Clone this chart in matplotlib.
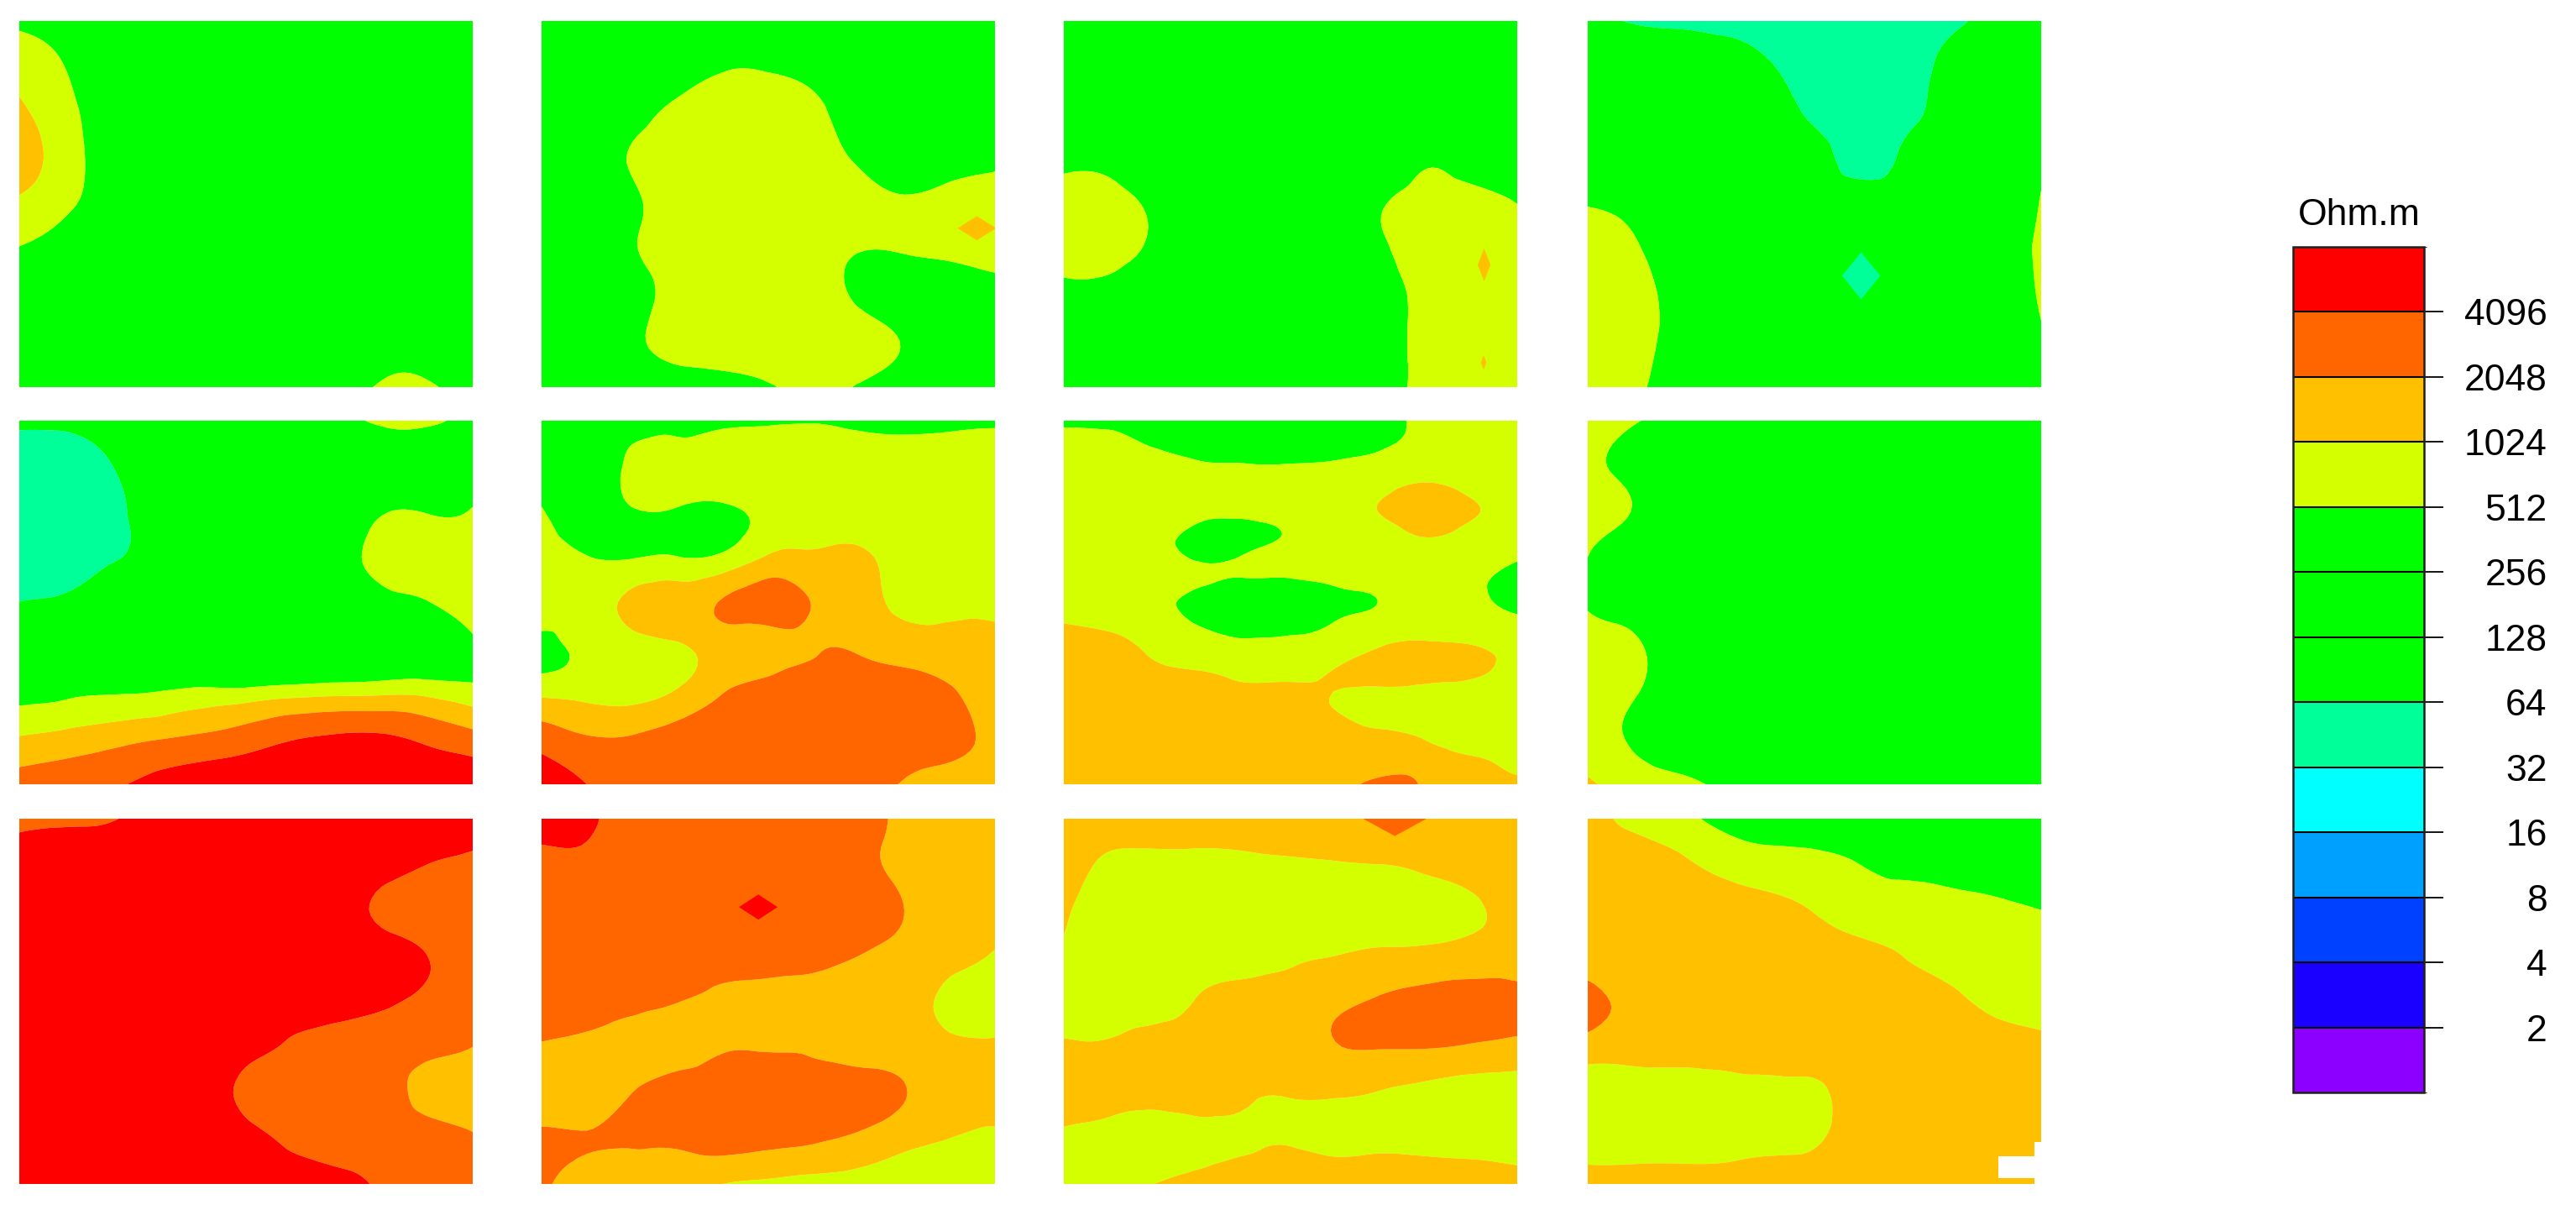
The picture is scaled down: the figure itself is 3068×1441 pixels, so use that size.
#/usr/bin/env python

import numpy as np
import matplotlib
matplotlib.use('Agg')
import matplotlib.pyplot as plt
import matplotlib.tri as mtri
from matplotlib.cm import ScalarMappable
from matplotlib.colors import ListedColormap, BoundaryNorm
from matplotlib.patches import Rectangle

plt.rcParams['font.family'] = ['Liberation Sans', 'DejaVu Sans']

# resistivity as log2(Ohm.m), rows run top to bottom
panel_1 = [
    [8.8, 8.5, 8.0, 7.5, 7.0, 7.0, 7.5, 7.5, 7.5, 7.5, 7.5],
    [9.6, 9.0, 8.3, 8.0, 7.5, 7.2, 7.5, 7.5, 7.5, 7.5, 7.5],
    [10.2, 9.3, 8.5, 8.0, 7.5, 7.3, 7.5, 7.8, 8.0, 8.0, 8.0],
    [10.5, 9.5, 8.5, 8.0, 7.5, 7.3, 7.5, 7.8, 8.0, 8.0, 8.0],
    [9.8, 9.2, 8.5, 8.0, 7.5, 7.3, 7.5, 7.8, 8.0, 8.0, 8.0],
    [8.95, 8.6, 8.2, 8.0, 7.5, 7.5, 7.5, 7.8, 8.0, 8.0, 8.0],
    [8.5, 8.3, 8.0, 8.0, 7.5, 7.5, 7.5, 7.8, 8.0, 8.0, 8.0],
    [8.2, 8.0, 8.0, 8.0, 7.5, 7.5, 7.8, 8.0, 8.5, 8.5, 8.2],
    [8.0, 8.0, 8.0, 7.8, 7.5, 7.5, 8.0, 8.5, 9.1, 9.1, 8.6],
]
panel_2 = [
    [8, 8, 8, 8, 8, 8, 8, 8, 8, 8, 8],
    [8, 8, 8, 8.3, 8.9, 8.9, 8.6, 8, 8, 8, 8],
    [8, 8, 8.5, 9.3, 9.5, 9.5, 9.3, 8.3, 8, 8, 8],
    [8, 8.3, 9.1, 9.5, 9.5, 9.5, 9.5, 8.8, 8.2, 8.4, 8.7],
    [8, 8.2, 8.8, 9.5, 9.5, 9.5, 9.5, 9.5, 9.2, 9.5, 9.6],
    [8, 8.2, 8.9, 9.5, 9.5, 9.5, 9.5, 9.05, 9.1, 9.3, 9.5],
    [8, 8, 8.5, 9.4, 9.5, 9.5, 9.5, 8.8, 8.3, 8.2, 8.5],
    [8, 8, 8.7, 9.5, 9.5, 9.5, 9.5, 9.5, 8.9, 8, 8],
    [8, 8, 8, 8.2, 8.6, 8.9, 9.3, 8.9, 8.2, 8, 8],
]
panel_3 = [
    [8, 8, 8, 8, 8, 8, 8, 8, 8, 8, 8],
    [8, 8, 8, 8, 8, 8, 8, 8, 8, 8, 8],
    [8, 8, 8, 8, 8, 8, 8, 8, 8, 8, 8],
    [8.7, 8.6, 8, 8, 8, 8, 8, 8, 8.8, 8.3, 8],
    [9.5, 9.5, 8.7, 8, 8, 8, 8, 8.9, 9.5, 9.5, 9],
    [9.5, 9.5, 8.7, 8, 8, 8, 8, 8.8, 9.5, 9.5, 9.5],
    [8.6, 8.5, 8, 8, 8, 8, 8, 8.5, 9.3, 9.5, 9.5],
    [8, 8, 8, 8, 8, 8, 8, 8.5, 9.3, 9.5, 9.5],
    [8, 8, 8, 8, 8, 8, 8, 8.5, 9.3, 9.5, 9.5],
]
panel_4 = [
    [6.5, 5.9, 5.8, 5.7, 5.5, 5.5, 5.5, 5.5, 5.7, 6.5, 7],
    [7.5, 7, 6.7, 6.5, 6.1, 5.5, 5.5, 5.5, 6.4, 7, 7.5],
    [7.5, 7, 6.8, 6.7, 6.5, 5.8, 5.5, 5.7, 6.5, 7, 7.5],
    [8, 7.5, 7, 6.7, 6.5, 6.4, 5.6, 6.2, 6.7, 7, 8.5],
    [8.95, 8.5, 7.5, 7, 6.7, 6.5, 6.5, 6.5, 6.7, 7.5, 9.1],
    [9.5, 9.2, 8, 7.2, 6.8, 6.6, 6.5, 6.5, 6.7, 8, 9.2],
    [9.5, 9.4, 8.5, 7.5, 7, 6.8, 6.5, 6.5, 6.8, 8, 9.1],
    [9.5, 9.4, 8.5, 7.5, 7, 6.8, 6.5, 6.6, 7, 8, 8.9],
    [9.5, 9.2, 8.4, 7.5, 7, 6.6, 6.5, 6.7, 7, 8, 8.5],
]
panel_5 = [
    [6.2, 6.3, 6.5, 7, 7.5, 7.5, 8, 8.5, 9.3, 9.3, 8.5],
    [5.5, 5.4, 5.95, 6.8, 7.5, 7.5, 8, 8, 8, 8, 8.5],
    [5.5, 5.5, 5.7, 6.7, 7.5, 7.5, 8, 8, 8.9, 8.95, 9.05],
    [5.5, 5.5, 5.9, 6.5, 7.5, 7.5, 8, 8.5, 9.4, 9.5, 9.5],
    [6.03, 6.3, 6.8, 7, 7.5, 7.5, 8, 8, 8.5, 8.95, 9.8],
    [8, 8, 8, 8, 7.5, 6.9, 7.2, 7.3, 7.6, 7.9, 8.7],
    [8.73, 8.84, 8.96, 9.05, 9.3, 9.4, 9.66, 9.8, 9.87, 9.8, 9.4],
    [10.1, 10.35, 10.64, 10.95, 11.2, 11.53, 11.95, 12.15, 12.17, 11.8, 11.38],
    [11.46, 11.62, 11.85, 12.28, 12.7, 12.9, 13, 13, 13, 13, 12.8],
]
panel_6 = [
    [8.5, 8.5, 8.2, 8.6, 8.8, 8.9, 8.95, 8.75, 8.65, 8.75, 8.85],
    [8, 7.5, 9.4, 9.5, 9.5, 9.5, 9.5, 9.5, 9.5, 9.5, 9.5],
    [9.1, 8.4, 8.9, 8.9, 8.8, 9.3, 9.5, 9.5, 9.5, 9.5, 9.5],
    [9.5, 9.02, 8.95, 9.02, 9.2, 10.1, 10.15, 10.2, 9.5, 9.5, 9.5],
    [9.6, 9.5, 10.3, 10.6, 11.1, 11.5, 10.95, 10.5, 9.7, 9.7, 9.6],
    [8.7, 9.2, 9.5, 9.85, 10.4, 10.5, 10.9, 10.9, 10.6, 10.5, 10.5],
    [9.8, 9.7, 9.6, 10.15, 11, 11.5, 11.5, 11.5, 11.4, 11.1, 10.5],
    [11.6, 11.1, 11.1, 11.4, 11.5, 11.5, 11.5, 11.5, 11.5, 11.3, 10.7],
    [12.5, 12, 11.5, 11.5, 11.5, 11.5, 11.5, 11.5, 10.9, 10.5, 10.5],
]
# this one has small lobes close together, so twice the rows
panel_7 = [
    [8.85, 8.75, 8.5, 8.5, 8.5, 8.5, 8.5, 8.5, 9.4, 9.5, 9.5],
    [9.3, 9.3, 8.85, 8.4, 8.3, 8.3, 8.4, 8.8, 9.3, 9.5, 9.5],
    [9.5, 9.5, 9.5, 9.2, 9.1, 9.1, 9.2, 9.4, 9.5, 9.5, 9.5],
    [9.5, 9.5, 9.5, 9.5, 9.5, 9.5, 9.5, 9.8, 10.2, 9.8, 9.5],
    [9.5, 9.5, 9.5, 9.3, 9.3, 9.4, 9.5, 10.05, 10.5, 10.1, 9.5],
    [9.5, 9.5, 9.3, 8.7, 8.6, 9.15, 9.5, 9.6, 10.1, 9.7, 9.5],
    [9.5, 9.5, 9.4, 8.85, 9.1, 9.4, 9.5, 9.5, 9.5, 9.4, 9.1],
    [9.5, 9.5, 9.4, 9.2, 8.95, 8.95, 9.2, 9.4, 9.5, 9.2, 8.6],
    [9.5, 9.5, 9.4, 8.6, 8.5, 8.5, 8.7, 9.05, 9.5, 9.2, 8.7],
    [10.05, 9.85, 9.5, 8.97, 8.6, 8.7, 9.1, 9.5, 9.5, 9.5, 9.3],
    [10.5, 10.3, 9.8, 9.4, 9.3, 9.3, 9.5, 10.05, 10.3, 10.1, 9.6],
    [10.5, 10.5, 10.2, 10, 9.7, 9.7, 10.05, 10.5, 10.5, 10.3, 9.6],
    [10.5, 10.5, 10.5, 10.5, 10.3, 10.3, 9.97, 9.7, 9.6, 9.5, 9.5],
    [10.5, 10.5, 10.5, 10.5, 10.5, 10.5, 10.1, 9.5, 9.5, 9.5, 9.5],
    [10.5, 10.5, 10.5, 10.5, 10.5, 10.5, 10.5, 10.3, 9.95, 9.5, 9.5],
    [10.5, 10.5, 10.5, 10.5, 10.5, 10.5, 10.5, 10.5, 10.5, 10.2, 9.6],
    [10.5, 10.5, 10.5, 10.5, 10.5, 10.5, 10.5, 11.4, 10.8, 10.5, 10.3],
]
panel_8 = [
    [9.5, 9.1, 8.5, 8, 7.5, 7, 7, 7.5, 8, 8, 8],
    [9.3, 8.6, 8, 8, 7.5, 7.2, 7.2, 7.5, 8, 8, 8],
    [9.5, 8.95, 8, 8, 8, 8, 8, 8, 8, 8, 8],
    [9, 8, 8, 8, 8, 8, 8, 8, 8, 8, 8],
    [8.9, 8.2, 8, 8, 8, 8, 8, 8, 8, 8, 8],
    [9.5, 9.3, 8.1, 8, 8, 8, 8, 8, 8, 8, 8],
    [9.5, 9.1, 8.2, 8, 8, 8, 8, 8, 8, 8, 8],
    [9.4, 8.9, 8.4, 8, 8, 8, 8, 8, 8, 8, 8],
    [10.2, 9.5, 9.3, 8.7, 8, 8, 8, 8, 8, 8, 8],
]
panel_9 = [
    [11.6, 11.8, 11.9, 12.5, 12.5, 12.5, 12.5, 12.5, 12.5, 12.5, 12.5],
    [12.6, 12.6, 12.6, 12.6, 12.6, 12.6, 12.6, 12.6, 12.4, 12, 11.8],
    [12.6, 12.6, 12.6, 12.6, 12.6, 12.6, 12.6, 12.5, 11.8, 11.5, 11.5],
    [12.6, 12.6, 12.6, 12.6, 12.6, 12.6, 12.6, 12.6, 12.5, 12, 11.5],
    [12.6, 12.6, 12.6, 12.6, 12.6, 12.6, 12.5, 12.5, 12.2, 11.8, 11.5],
    [12.6, 12.6, 12.6, 12.6, 12.6, 12.3, 11.85, 11.5, 11.5, 11.3, 11],
    [12.6, 12.6, 12.6, 12.6, 12.5, 11.8, 11.5, 11.5, 11.5, 10.6, 10.5],
    [12.6, 12.6, 12.6, 12.6, 12.6, 12.3, 11.8, 11.5, 11.5, 11.5, 11.1],
    [12.6, 12.6, 12.6, 12.6, 12.6, 12.6, 12.6, 12.5, 11.8, 11.5, 11.5],
]
panel_10 = [
    [12.5, 12.2, 11.5, 11.5, 11.5, 11.5, 11.5, 11.5, 10.7, 10.5, 10.5],
    [11.7, 11.8, 11.5, 11.5, 11.5, 11.5, 11.5, 11.3, 10.7, 10.5, 10.5],
    [11.5, 11.5, 11.5, 11.5, 11.5, 11.5, 11.5, 11.5, 11, 10.5, 10.5],
    [11.5, 11.5, 11.5, 11.5, 11.5, 11.5, 11.3, 11, 10.7, 10.4, 9.9],
    [11.5, 11.5, 11.3, 11.03, 10.7, 10.5, 10.5, 10.5, 10.5, 9.7, 9.5],
    [10.9, 10.7, 10.5, 10.5, 10.9, 10.9, 10.8, 10.5, 10.5, 10.3, 10.2],
    [10.4, 10.5, 11, 11.5, 11.5, 11.5, 11.5, 11.5, 11.05, 10.5, 10.5],
    [11.2, 11.05, 11.1, 11.2, 11.4, 11.3, 11.15, 10.8, 10.3, 10, 9.8],
    [11.2, 10.5, 10.5, 10.5, 10, 9.8, 9.6, 9.6, 9.5, 9.5, 9.5],
]
panel_11 = [
    [10.5, 10.5, 10.5, 10.5, 10.5, 10.5, 10.5, 10.5, 10.5, 10.5, 10.5],
    [10.5, 9.85, 9.8, 9.8, 9.85, 9.9, 9.95, 10, 10.2, 10.5, 10.5],
    [10.15, 9.5, 9.5, 9.5, 9.5, 9.5, 9.5, 9.5, 9.5, 9.8, 10.5],
    [9.85, 9.5, 9.5, 9.5, 9.5, 9.8, 10, 10.2, 10.3, 10.5, 10.5],
    [9.6, 9.6, 9.6, 10.1, 10.5, 10.5, 10.8, 11.1, 11.3, 11.3, 11.3],
    [10.15, 10.15, 10.5, 10.5, 10.5, 10.5, 10.95, 11.05, 11.05, 10.9, 10.7],
    [10.5, 10.5, 10.5, 10.5, 10.15, 10.05, 10.1, 9.95, 9.7, 9.5, 9.5],
    [9.8, 9.5, 9.3, 9.65, 9.9, 9.95, 9.8, 9.8, 9.7, 9.6, 9.5],
    [9.5, 9.5, 10, 10.5, 10.5, 10.5, 10.5, 10.5, 10.5, 10.5, 10.4],
]
panel_12 = [
    [10.5, 9.7, 9.3, 8.7, 8.5, 8.3, 8, 8, 8, 8, 8],
    [10.5, 10.5, 10.2, 9.7, 9.4, 9.3, 9, 8.7, 8.5, 8.2, 8],
    [10.5, 10.5, 10.5, 10.5, 10.3, 9.95, 9.5, 9.5, 9.4, 9.3, 9],
    [10.3, 10.5, 10.5, 10.5, 10.5, 10.5, 10.3, 9.97, 9.6, 9.5, 9.5],
    [11.5, 10.7, 10.5, 10.5, 10.5, 10.5, 10.5, 10.5, 10.25, 9.7, 9.5],
    [10.5, 10.4, 10.4, 10.5, 10.5, 10.5, 10.5, 10.5, 10.5, 10.5, 10.3],
    [9.5, 9.5, 9.5, 9.5, 9.7, 9.8, 10.5, 10.5, 10.5, 10.5, 10.5],
    [9.5, 9.5, 9.5, 9.5, 9.7, 9.85, 10.5, 10.5, 10.5, 10.5, 10.5],
    [10.5, 10.5, 10.5, 10.5, 10.5, 10.5, 10.5, 10.5, 10.5, 10.5, 10.5],
]
panels = [panel_1, panel_2, panel_3, panel_4, panel_5, panel_6,
          panel_7, panel_8, panel_9, panel_10, panel_11, panel_12]

# small anomalies the coarse grids miss: panel, x, y, half width, half height, around, peak
spots = [
    (1, 0.96, 0.566, 0.085, 0.066, 9.5, 10.5),
    (2, 0.927, 0.666, 0.028, 0.09, 9.5, 10.5),
    (2, 0.926, 0.933, 0.012, 0.04, 9.5, 10.5),
    (3, 0.603, 0.696, 0.085, 0.13, 6.5, 5.5),
    (9, 0.478, 0.242, 0.085, 0.069, 11.5, 12.5),
    (10, 0.73, 0.0, 0.14, 0.095, 10.5, 11.5),
]

levelColors = ['#8C00FF', '#1A00FF', '#0040FF', '#00A0FF', '#00FFFF', '#00FF99', '#00FF00',
               '#00FF00', '#00FF00', '#D4FF00', '#FFC000', '#FF6600', '#FF0000']
levels = list(range(14))
tickLabels = ['2', '4', '8', '16', '32', '64', '128', '256', '512', '1024', '2048', '4096']

# the three green bands share a colour, drawn as one to avoid seams
drawLevels = [0, 1, 2, 3, 4, 5, 6, 9, 10, 11, 12, 13]
drawColors = levelColors[:6] + ['#00FF00'] + levelColors[9:]

W, H = 3068, 1441
colLeft = [23, 645, 1267, 1891]
rowTop = [25, 501, 975]
rowHeight = [436, 433, 435]
panelWidth = 540

def AddAxes(fig, left, top, width, height):
    return fig.add_axes([left / W, 1 - (top + height) / H, width / W, height / H])

cmap = ListedColormap(levelColors)
norm = BoundaryNorm(levels, cmap.N)

fig = plt.figure(figsize=(W / 100, H / 100), dpi=100)

for i, grid in enumerate(panels):
    ax = AddAxes(fig, colLeft[i % 4], rowTop[i // 4], panelWidth, rowHeight[i // 4])
    z = np.array(grid, dtype=float)
    x = np.linspace(0, 1, z.shape[1])
    y = np.linspace(0, 1, z.shape[0])
    X, Y = np.meshgrid(x, y)

    # rounded contours, the same way the original software smooths its grid
    tri = mtri.Triangulation(X.ravel(), Y.ravel())
    refiner = mtri.UniformTriRefiner(tri)
    fineTri, fineZ = refiner.refine_field(z.ravel(), subdiv=3)
    ax.tricontourf(fineTri, np.clip(fineZ, 0, 13), levels=drawLevels, colors=drawColors, antialiased=True)

    for spot in spots:
        if spot[0] != i:
            continue
        sx = [spot[1] - spot[3], spot[1], spot[1] + spot[3]]
        sy = [spot[2] - spot[4], spot[2], spot[2] + spot[4]]
        b = spot[5]
        sz = [[b, b, b], [b, spot[6], b], [b, b, b]]
        ax.contourf(sx, sy, sz, levels=drawLevels, colors=drawColors, antialiased=True)

    ax.set_xlim(0, 1)
    ax.set_ylim(1, 0)
    ax.axis('off')

    # white notch in the last panel's corner
    if i == 11:
        ax.add_patch(Rectangle((0.905, 0.923), 0.081, 0.062, color='white', lw=0, zorder=5))
        ax.add_patch(Rectangle((0.986, 0.885), 0.014, 0.115, color='white', lw=0, zorder=5, clip_on=False))

cax = AddAxes(fig, 2731, 294, 156, 1007)
cbar = fig.colorbar(ScalarMappable(norm=norm, cmap=cmap), cax=cax, ticks=levels[1:-1],
                    spacing='uniform', drawedges=True)
cbar.ax.set_yticklabels(tickLabels)
cbar.ax.tick_params(axis='y', length=16.5, width=1.3, pad=89, labelsize=32, color='black')
for t in cbar.ax.get_yticklabels():
    t.set_ha('right')
cbar.outline.set_linewidth(1.8)
cbar.outline.set_edgecolor('#202020')
cbar.dividers.set_linewidth(1.5)
cbar.dividers.set_color('black')

fig.text(2810 / W, 1 - 257 / H, 'Ohm.m', fontsize=32, ha='center', va='center', color='black')

fig.savefig('out.png', dpi=100, facecolor='white')
